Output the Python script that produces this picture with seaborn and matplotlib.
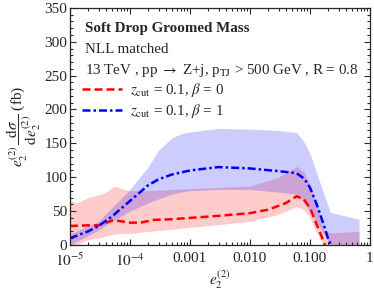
import numpy as np
import pandas as pd
import matplotlib
matplotlib.use("Agg")
import matplotlib.pyplot as plt
import matplotlib.ticker as mticker
import seaborn as sns

# central curves
red_x = [1e-5, 2e-5, 3e-5, 5e-5, 6e-5, 1e-4, 1.5e-4, 2.5e-4, 5e-4, 1e-3, 3e-3,
         1e-2, 2e-2, 4e-2, 6e-2, 8e-2, 0.1, 0.13, 0.17, 0.178]
red_y = [28, 29, 29, 36, 36, 33, 33, 37, 38, 40, 43,
         47, 52, 62, 72, 67, 55, 30, 5, 0]

blue_x = [1e-5, 2e-5, 3e-5, 5e-5, 1e-4, 2e-4, 3e-4, 5e-4, 1e-3, 3e-3,
          1e-2, 3e-2, 6e-2, 8e-2, 0.1, 0.13, 0.17, 0.2, 0.22]
blue_y = [10, 20, 28, 42, 65, 88, 97, 104, 110, 115,
          113, 109, 106, 98, 85, 60, 30, 10, 2]

# uncertainty bands
red_band_x = [1e-5, 1.3e-5, 2e-5, 3e-5, 4e-5, 5.5e-5, 8e-5, 1e-4, 2e-4, 5e-4, 1e-3,
              3e-3, 1e-2, 3e-2, 6e-2, 8e-2, 0.1, 0.13, 0.17, 0.22, 0.66]
red_band_hi = [66, 62, 70, 74, 78, 87, 82, 80, 80, 82, 83,
               85, 87, 100, 116, 108, 90, 60, 22, 18, 20]
red_band_lo = [0, 0, 8, 10, 13, 16, 17, 17, 20, 23, 26,
               30, 35, 45, 57, 52, 40, 18, 0, 0, 0]

blue_band_x = [1e-5, 3e-5, 5e-5, 1e-4, 2e-4, 3e-4, 5e-4, 7e-4, 1e-3, 3e-3,
               1e-2, 3e-2, 6e-2, 8e-2, 0.1, 0.15, 0.22, 0.66]
blue_band_hi = [16, 35, 55, 82, 115, 140, 158, 164, 167, 172,
                171, 169, 166, 152, 135, 90, 48, 38]
blue_band_lo = [0, 22, 35, 50, 62, 68, 75, 78, 80, 82,
                82, 78, 75, 62, 50, 25, 0, 0]

sns.set_style("ticks")
plt.rcParams["font.family"] = ["Liberation Serif", "DejaVu Serif"]
plt.rcParams["mathtext.fontset"] = "stix"

fig = plt.figure(figsize=(3.74, 2.92), dpi=100)
ax = fig.add_axes([0.187, 0.161, 0.802, 0.812])

ax.fill_between(red_band_x, red_band_lo, red_band_hi, color="#ff0000",
                alpha=0.2, linewidth=0)
ax.fill_between(blue_band_x, blue_band_lo, blue_band_hi, color="#0000ff",
                alpha=0.2, linewidth=0)

red_df = pd.DataFrame({"x": red_x, "y": red_y})
blue_df = pd.DataFrame({"x": blue_x, "y": blue_y})
sns.lineplot(data=red_df, x="x", y="y", ax=ax, color="#ff0000", lw=1.8,
             linestyle=(0, (3.2, 1.6)),
             label=r"$z_{\mathrm{cut}}$ = 0.1, $\beta$ = 0")
sns.lineplot(data=blue_df, x="x", y="y", ax=ax, color="#0000ff", lw=1.8,
             linestyle=(0, (3.2, 1.2, 1.0, 1.2)),
             label=r"$z_{\mathrm{cut}}$ = 0.1, $\beta$ = 1")

ax.set_xscale("log")
ax.set_xlim(1e-5, 1)
ax.set_ylim(0, 350)
ax.set_xticks([1e-5, 1e-4, 1e-3, 1e-2, 1e-1, 1])
ax.set_xticklabels([r"$10^{-5}$", r"$10^{-4}$", "0.001", "0.010", "0.100", "1"])
ax.set_yticks(np.arange(0, 351, 50))
ax.yaxis.set_minor_locator(mticker.MultipleLocator(10))
ax.xaxis.set_minor_locator(mticker.LogLocator(subs=np.arange(2, 10)))
ax.xaxis.set_minor_formatter(mticker.NullFormatter())
ax.tick_params(which="both", direction="in", top=True, right=True,
               labelsize=11, width=0.8)
ax.tick_params(axis="x", pad=5)
ax.tick_params(axis="y", pad=2)
ax.tick_params(which="major", length=4)
ax.tick_params(which="minor", length=2)
for s in ax.spines.values():
    s.set_linewidth(0.9)

ax.set_xlabel(r"$e_2^{(2)}$", fontsize=11, labelpad=-1)
ax.set_ylabel(r"$e_2^{(2)}\,\dfrac{\mathrm{d}\sigma}{\mathrm{d}e_2^{(2)}}$ (fb)",
              fontsize=11, labelpad=1)

ax.text(0.05, 0.915, "Soft Drop Groomed Mass", transform=ax.transAxes,
        fontsize=10.8, fontweight="bold", va="center")
ax.text(0.05, 0.825, "NLL matched", transform=ax.transAxes,
        fontsize=10.8, va="center")
ax.text(0.05, 0.735,
        r"13 TeV , pp $\rightarrow$ Z+j, p$_{\mathrm{TJ}}$ > 500 GeV , R = 0.8",
        transform=ax.transAxes, fontsize=10.8, va="center")

ax.legend(loc="upper left", bbox_to_anchor=(0.03, 0.703), frameon=False,
          fontsize=10.8, handlelength=2.7, handletextpad=0.5,
          labelspacing=0.2, borderaxespad=0, borderpad=0.2)

fig.savefig("out.png", dpi=100)
